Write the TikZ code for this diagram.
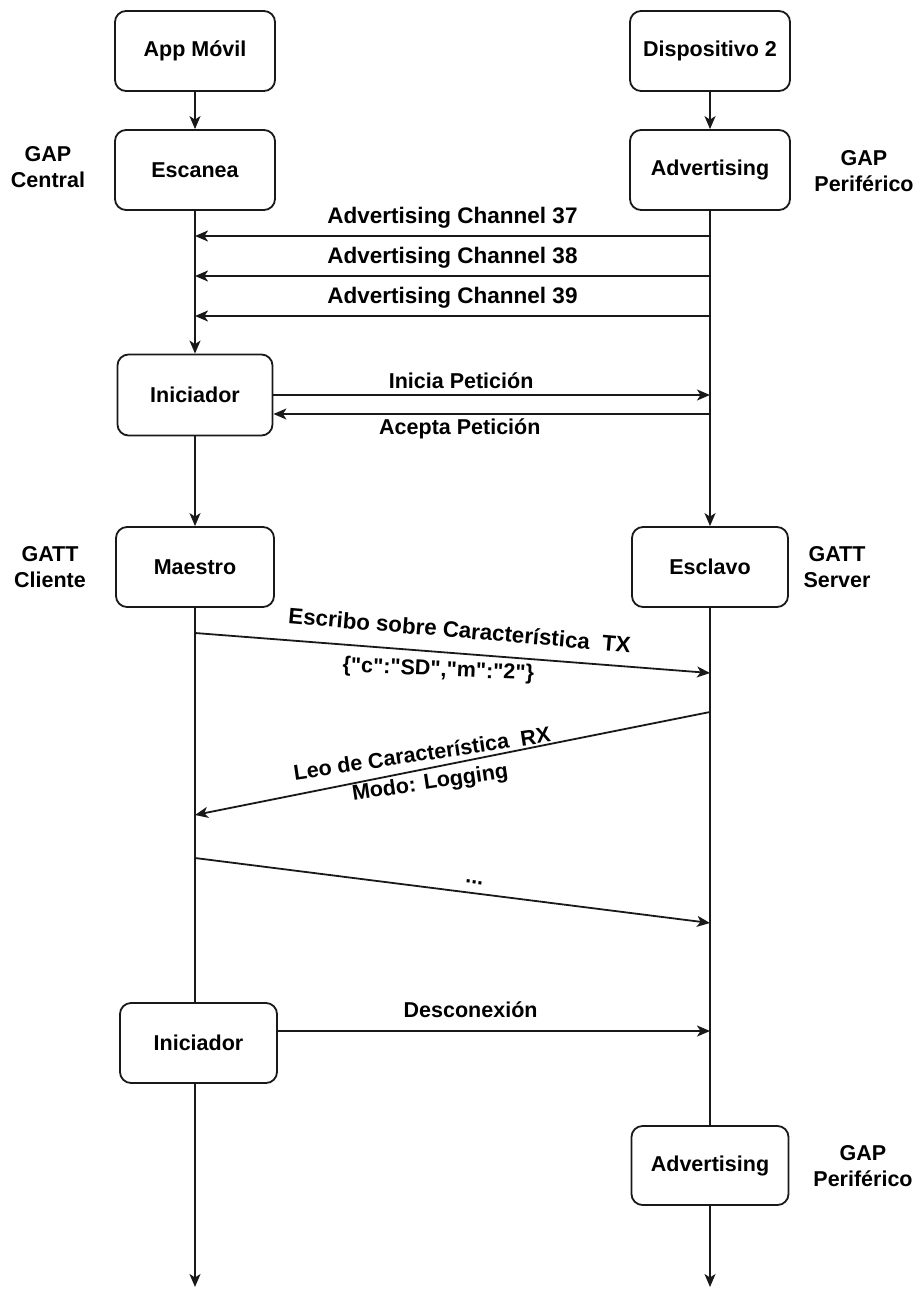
\documentclass[tikz,border=0pt]{standalone}
\usepackage{fontspec}
% a family of its own, so that straight quotes stay straight
\newfontfamily\lsans{Liberation Sans}
\usetikzlibrary{arrows.meta,calc}
\begin{document}
\begin{tikzpicture}[x=1pt,y=-1pt,
  every node/.style={font=\lsans\bfseries\fontsize{21.5}{26}\selectfont, text=black},
  box/.style={draw=black!90, line width=1.8pt, rounded corners=11pt,
    minimum width=160pt, minimum height=80pt, inner sep=0pt},
  life/.style={draw=black!90, line width=1.8pt},
  flow/.style={life, -{Stealth[length=13pt,width=11pt,inset=3.5pt]}},
  role/.style={align=center},
  msg/.style={anchor=base, inner sep=0pt},
  chan/.style={msg, font=\lsans\bfseries\fontsize{22.5}{27}\selectfont}
]
\useasboundingbox (0,0) rectangle (919,1290);

% --- participants and states ---
\node[box] (app) at (195,51) {App Móvil};
\node[box] (dev) at (710,51) {Dispositivo 2};
\node[box] (esc) at (195,170) {Escanea};
\node[box] (adv) at (710,170) {Advertising};
\node[box, minimum width=155pt, minimum height=81pt] (ini) at (195,395) {Iniciador};
\node[box, minimum width=158pt] (mae) at (195,567) {Maestro};
\node[box, minimum width=156pt] (esl) at (710,567) {Esclavo};
\node[box, minimum width=157pt] (fin) at (198.5,1043) {Iniciador};
\node[box, minimum width=157pt, minimum height=79pt] (adv2) at (710,1165.5) {Advertising};

% --- role captions ---
\node[role] (gapc) at (48,167) {GAP\\Central};
\node[role] (gapp) at (864,171) {GAP\\Periférico};
\node[role] (gattc) at (50,567) {GATT\\Cliente};
\node[role] (gatts) at (837,567) {GATT\\Server};
\node[role] (gapp2) at (863,1166) {GAP\\Periférico};

% --- lifelines ---
\coordinate (lend) at (195,1287);
\coordinate (rend) at (710,1287);
\draw[flow] (app) -- (esc);
\draw[flow] (dev) -- (adv);
\draw[flow] (esc) -- (ini);
\draw[flow] (adv) -- (esl);
\draw[flow] (ini) -- (mae);
\draw[life] (mae.south) -- (mae.south |- fin.north);
\draw[flow] (fin.south -| mae) -- (lend);
\draw[life] (esl) -- (adv2);
\draw[flow] (adv2) -- (rend);

% --- advertising channels ---
\coordinate (c37r) at (710,236); \coordinate (c37l) at (195,236);
\coordinate (c38r) at (710,276); \coordinate (c38l) at (195,276);
\coordinate (c39r) at (710,316); \coordinate (c39l) at (195,316);
\draw[flow] (c37r) -- node[chan, midway, yshift=13pt] (t37) {Advertising Channel 37} (c37l);
\draw[flow] (c38r) -- node[chan, midway, yshift=13pt] (t38) {Advertising Channel 38} (c38l);
\draw[flow] (c39r) -- node[chan, midway, yshift=13pt] (t39) {Advertising Channel 39} (c39l);

% --- connection request ---
\coordinate (ipr) at (710,395);
\draw[flow] (ini.east) -- node[msg, pos=0.43, yshift=7pt] (tini) {Inicia Petición} (ipr);
\coordinate (apr) at (710,414);
\coordinate (apl) at (ini.east |- apr);
\draw[flow] (apr) -- node[msg, pos=0.573, yshift=-20pt] (tacc) {Acepta Petición} (apl);

% --- characteristic write ---
\coordinate (w1) at (195,633); \coordinate (w2) at (710,673);
\draw[flow] (w1) -- (w2);
\node[msg, rotate=-4.9, font=\lsans\bfseries\fontsize{22.3}{27}\selectfont] (wtx) at (459,638) {Escribo sobre Característica\ \ TX};
\node[msg, rotate=-2.5] (wval) at (438,676) {\{"c":"SD","m":"2"\}};

% --- characteristic read ---
\coordinate (r1) at (710,712); \coordinate (r2) at (195,815);
\draw[flow] (r1) -- (r2);
\node[msg, rotate=8.5] (rrx) at (423,761) {Leo de Característica\ \ RX};
\node[msg, rotate=8.5] (rmode) at (431,789) {Modo: Logging};

% --- further exchanges ---
\coordinate (e1) at (195,858); \coordinate (e2) at (710,923);
\draw[flow] (e1) -- (e2);
\node[msg, rotate=-7.2] (edots) at (474,884) {...};

% --- disconnection ---
\coordinate (dr) at (710,1031);
\coordinate (dl) at (fin.east |- dr);
\draw[flow] (dl) -- node[msg, pos=0.446, yshift=14pt] (tdis) {Desconexión} (dr);
\end{tikzpicture}
\end{document}
